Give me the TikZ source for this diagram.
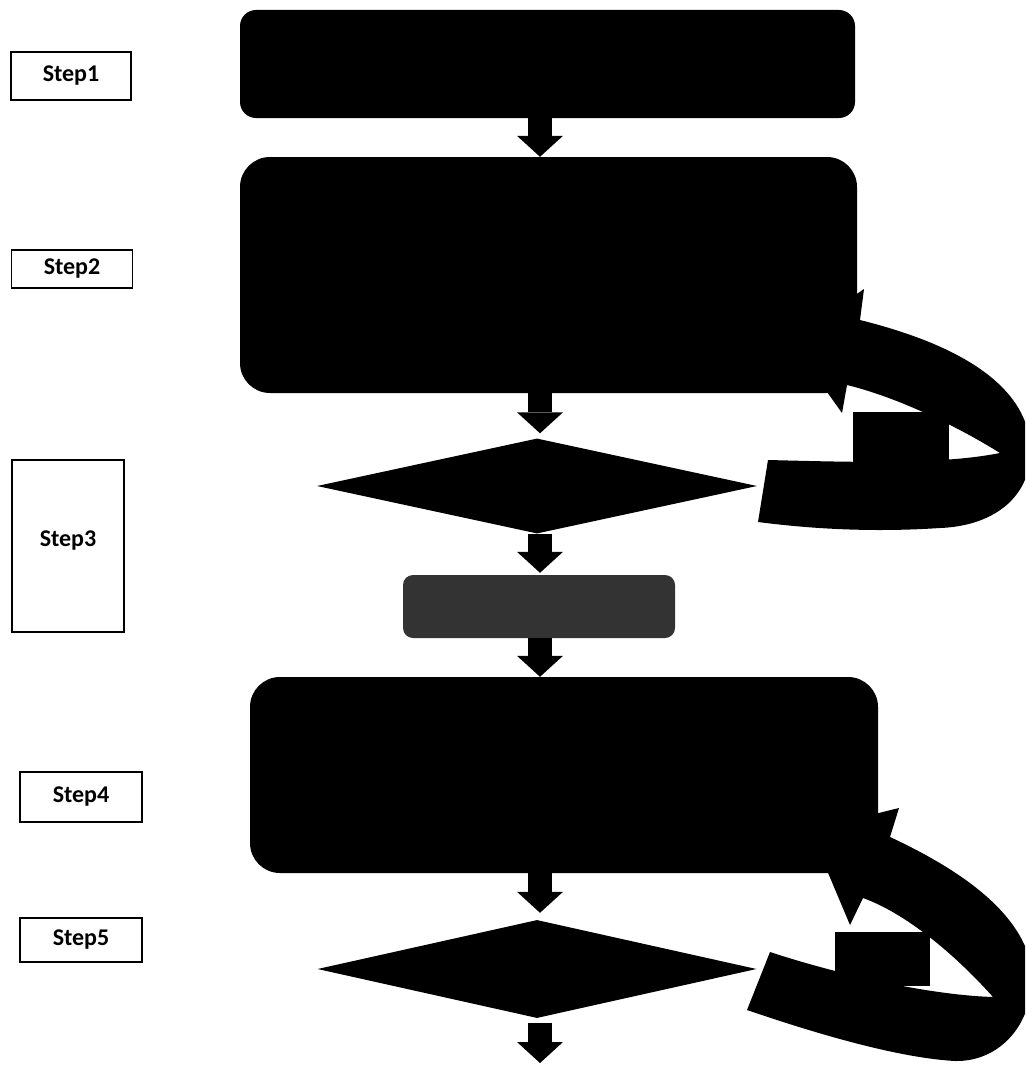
\documentclass[tikz,border=0pt]{standalone}
\usepackage{fontspec}
\setmainfont{Carlito}
\usetikzlibrary{shapes.geometric,arrows.meta}
\begin{document}
\begin{tikzpicture}[x=1pt,y=-1pt,
  stepbox/.style={draw=black,line width=1.2pt,fill=white,inner sep=0pt,
    font=\fontsize{24}{28}\selectfont\bfseries},
  blk/.style={fill=black,draw=none,inner sep=0pt},
  process/.style={blk,rectangle,rounded corners=#1},
  decision/.style={blk,diamond,aspect=4.6},
  blockarr/.style={line width=24pt,
    -{Triangle[width=46pt,length=21pt,line width=0pt]}},
  loopband/.style={fill=black,draw=none}
]
\useasboundingbox (0,0) rectangle (1025,1065);
\clip (0,0) rectangle (1025,1065);
\fill[white] (0,0) rectangle (1025,1065);

% curved return arrow 1
\path[loopband] (864,289) -- (860,320)
  .. controls (940,340) and (1020,375) .. (1030,440)
  .. controls (1036,495) and (995,526) .. (940,528)
  .. controls (880,532) and (820,530) .. (758,522)
  -- (768,460)
  .. controls (850,462) and (940,465) .. (1000,453)
  .. controls (960,428) and (900,398) .. (847,385)
  -- (842,413) -- (790,340) -- cycle;
% curved return arrow 2
\path[loopband] (899,808) -- (890,837)
  .. controls (950,865) and (1015,905) .. (1030,960)
  .. controls (1040,1015) and (1005,1062) .. (955,1061)
  .. controls (900,1058) and (820,1035) .. (747,1010)
  -- (770,952)
  .. controls (840,975) and (930,995) .. (993,997)
  .. controls (960,960) and (910,915) .. (863,898)
  -- (850,925) -- (810,830) -- cycle;

% main flow nodes
\node[process=16pt, minimum width=615pt, minimum height=108pt] (b1) at (547.5,64) {};
\node[process=30pt, minimum width=617pt, minimum height=236pt] (b2) at (548.5,275) {};
\node[decision, minimum width=440pt, minimum height=95pt] (d1) at (537,486) {};
\node[process=10pt, fill=black!80, minimum width=272pt, minimum height=63pt] (g1) at (539,606.5) {};
\node[process=30pt, minimum width=628pt, minimum height=196pt] (b3) at (564,775) {};
\node[decision, minimum width=439pt, minimum height=98pt] (d2) at (537,969) {};

% small boxes inside the loops
\node[blk, minimum width=96pt, minimum height=51pt] (r1) at (901,437.5) {};
\node[blk, minimum width=95pt, minimum height=54pt] (r2) at (882.5,959) {};

% step labels
\node[stepbox, minimum width=120pt, minimum height=48pt] (s1) at (71,76) {Step1};
\node[stepbox, minimum width=121pt, minimum height=38pt] (s2) at (72,269) {Step2};
\node[stepbox, minimum width=112pt, minimum height=172pt] (s3) at (68,546) {};
\node[font=\fontsize{24}{28}\selectfont\bfseries, inner sep=0pt] (s3t) at (s3.center) [yshift=5pt] {Step3};
\node[stepbox, minimum width=122pt, minimum height=50pt] (s4) at (81,797) {Step4};
\node[stepbox, minimum width=122pt, minimum height=44pt] (s5) at (81,940) {Step5};

% block arrows
\coordinate (ax) at (540,0);
\coordinate (endpt) at (540,1063);
\draw[blockarr] (b1.south -| ax) -- (b2.north -| ax);
\draw[blockarr, shorten >=5pt] (b2.south -| ax) -- (d1.north -| ax);
\draw[blockarr, shorten >=2pt] (d1.south -| ax) -- (g1.north -| ax);
\draw[blockarr] (g1.south -| ax) -- (b3.north -| ax);
\draw[blockarr, shorten >=7pt] (b3.south -| ax) -- (d2.north -| ax);
\draw[blockarr, shorten <=5pt] (d2.south -| ax) -- (endpt);
\end{tikzpicture}
\end{document}
